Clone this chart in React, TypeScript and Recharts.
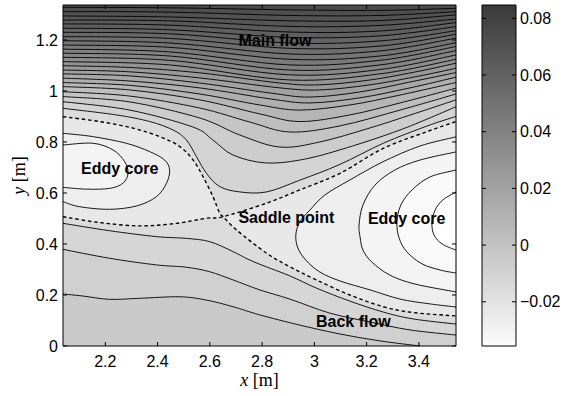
import React from 'react';
import { ComposedChart, Scatter, XAxis, YAxis } from 'recharts';

type P = [number, number];
type Piece = { pts: P[]; smooth: boolean };

const X_MIN = 2.038;
const X_MAX = 3.542;
const Y_MIN = 0;
const Y_MAX = 1.337;
const CB_MIN = -0.0356;
const CB_MAX = 0.0847;

const xTicks = [2.2, 2.4, 2.6, 2.8, 3, 3.2, 3.4];
const yTicks = [0, 0.2, 0.4, 0.6, 0.8, 1, 1.2];
const cbTicks = [-0.02, 0, 0.02, 0.04, 0.06, 0.08];

// main flow stream lines, from the separatrix upwards
const u1: P[] = [[2.038, 0.932], [2.242, 0.906], [2.37, 0.88], [2.459, 0.847], [2.51, 0.808], [2.549, 0.742], [2.587, 0.677], [2.638, 0.625], [2.715, 0.604], [2.817, 0.604], [2.944, 0.65], [3.098, 0.712], [3.264, 0.795], [3.43, 0.862], [3.542, 0.9]];
const u2: P[] = [[2.038, 0.958], [2.293, 0.925], [2.534, 0.859], [2.611, 0.808], [2.688, 0.749], [2.81, 0.718], [2.944, 0.729], [3.098, 0.769], [3.328, 0.847], [3.542, 0.938]];
const u3: P[] = [[2.038, 0.978], [2.293, 0.957], [2.561, 0.894], [2.715, 0.827], [2.868, 0.78], [3.021, 0.8], [3.213, 0.855], [3.404, 0.918], [3.542, 0.965]];
const u4: P[] = [[2.038, 0.997], [2.293, 0.98], [2.561, 0.933], [2.753, 0.878], [2.906, 0.839], [3.098, 0.863], [3.328, 0.925], [3.542, 0.988]];
const u5: P[] = [[2.038, 1.017], [2.293, 1.004], [2.561, 0.965], [2.791, 0.91], [2.944, 0.88], [3.136, 0.906], [3.328, 0.953], [3.542, 1.011]];
const u6: P[] = [[2.038, 1.033], [2.293, 1.022], [2.561, 0.988], [2.791, 0.945], [2.944, 0.925], [3.136, 0.945], [3.328, 0.984], [3.542, 1.033]];
const u7: P[] = [[2.038, 1.05], [2.293, 1.039], [2.561, 1.012], [2.83, 0.969], [2.983, 0.953], [3.174, 0.973], [3.366, 1.012], [3.542, 1.054]];
const u8: P[] = [[2.038, 1.067], [2.293, 1.059], [2.561, 1.031], [2.83, 0.992], [2.983, 0.976], [3.174, 0.996], [3.366, 1.035], [3.542, 1.072]];
const u9: P[] = [[2.038, 1.082], [2.293, 1.075], [2.561, 1.051], [2.868, 1.012], [3.021, 1.004], [3.213, 1.024], [3.404, 1.059], [3.542, 1.089]];
const u10: P[] = [[2.038, 1.099], [2.293, 1.092], [2.561, 1.071], [2.868, 1.031], [3.021, 1.024], [3.213, 1.043], [3.404, 1.078], [3.542, 1.109]];
const u11: P[] = [[2.038, 1.115], [2.446, 1.102], [2.906, 1.043], [3.251, 1.067], [3.542, 1.124]];
const u12: P[] = [[2.038, 1.132], [2.446, 1.12], [2.906, 1.063], [3.251, 1.084], [3.542, 1.141]];
const u13: P[] = [[2.038, 1.148], [2.446, 1.137], [2.906, 1.082], [3.251, 1.102], [3.542, 1.158]];
const u14: P[] = [[2.038, 1.164], [2.446, 1.153], [2.906, 1.102], [3.251, 1.12], [3.542, 1.174]];
const u15: P[] = [[2.038, 1.18], [2.446, 1.171], [2.906, 1.124], [3.251, 1.137], [3.542, 1.189]];
const u16: P[] = [[2.038, 1.197], [2.446, 1.188], [2.906, 1.145], [3.251, 1.157], [3.542, 1.207]];
const u17: P[] = [[2.038, 1.213], [2.446, 1.206], [2.906, 1.167], [3.251, 1.176], [3.542, 1.222]];
const u18: P[] = [[2.038, 1.23], [2.446, 1.224], [2.906, 1.188], [3.251, 1.196], [3.542, 1.236]];
const u19: P[] = [[2.038, 1.246], [2.446, 1.24], [2.906, 1.21], [3.251, 1.216], [3.542, 1.252]];
const u20: P[] = [[2.038, 1.263], [2.446, 1.258], [2.906, 1.231], [3.251, 1.235], [3.542, 1.268]];
const u21: P[] = [[2.038, 1.278], [2.446, 1.275], [2.906, 1.253], [3.251, 1.257], [3.542, 1.282]];
const u22: P[] = [[2.038, 1.294], [2.446, 1.29], [2.906, 1.275], [3.251, 1.276], [3.542, 1.298]];
const u23: P[] = [[2.038, 1.311], [2.446, 1.309], [2.906, 1.296], [3.251, 1.296], [3.542, 1.311]];
const u24: P[] = [[2.038, 1.328], [2.446, 1.326], [2.906, 1.318], [3.251, 1.316], [3.542, 1.324]];
const mainFlow = [u1, u2, u3, u4, u5, u6, u7, u8, u9, u10, u11, u12, u13, u14, u15, u16, u17, u18, u19, u20, u21, u22, u23, u24];

// separatrix (psi = 0): four half branches leaving the saddle point
const saddle: P = [2.651, 0.507];
const sepUpperLeft: P[] = [[2.638, 0.52], [2.612, 0.585], [2.574, 0.664], [2.536, 0.729], [2.485, 0.782], [2.408, 0.821], [2.306, 0.854], [2.178, 0.88], [2.038, 0.899]];
const sepLowerLeft: P[] = [[2.587, 0.501], [2.472, 0.481], [2.331, 0.471], [2.178, 0.484], [2.038, 0.507]];
const sepUpperRight: P[] = [[2.817, 0.56], [2.944, 0.612], [3.098, 0.677], [3.264, 0.775], [3.43, 0.84], [3.542, 0.88]];
const sepLowerRight: P[] = [[2.702, 0.455], [2.817, 0.364], [2.906, 0.311], [3.008, 0.259], [3.136, 0.2], [3.264, 0.154], [3.379, 0.131], [3.542, 0.118]];

// left eddy, outer and inner contour
const leftEddy1: P[] = [[2.038, 0.834], [2.152, 0.821], [2.28, 0.795], [2.37, 0.762], [2.427, 0.729], [2.446, 0.69], [2.434, 0.638], [2.395, 0.585], [2.319, 0.549], [2.216, 0.536], [2.102, 0.546], [2.038, 0.566]];
const leftEddy2: P[] = [[2.038, 0.788], [2.152, 0.795], [2.229, 0.769], [2.274, 0.723], [2.287, 0.677], [2.267, 0.638], [2.216, 0.618], [2.127, 0.615], [2.038, 0.622]];

// right eddy, outer to inner
const rightEddy1: P[] = [[3.542, 0.82], [3.404, 0.784], [3.262, 0.722], [3.136, 0.651], [3.04, 0.592], [2.983, 0.533], [2.944, 0.486], [2.929, 0.435], [2.937, 0.384], [2.967, 0.337], [3.021, 0.29], [3.098, 0.255], [3.213, 0.22], [3.328, 0.184], [3.443, 0.165], [3.542, 0.153]];
const rightEddy2: P[] = [[3.542, 0.761], [3.404, 0.729], [3.308, 0.69], [3.232, 0.631], [3.186, 0.553], [3.171, 0.475], [3.175, 0.427], [3.186, 0.376], [3.22, 0.329], [3.289, 0.278], [3.385, 0.243], [3.542, 0.212]];
const rightEddy3: P[] = [[3.542, 0.69], [3.443, 0.663], [3.374, 0.612], [3.331, 0.553], [3.316, 0.486], [3.324, 0.424], [3.354, 0.369], [3.412, 0.322], [3.481, 0.298], [3.542, 0.286]];
const rightEddy4: P[] = [[3.542, 0.604], [3.492, 0.573], [3.462, 0.533], [3.45, 0.482], [3.458, 0.435], [3.489, 0.4], [3.542, 0.376]];

// back flow lines under the separatrix
const back1: P[] = [[2.038, 0.481], [2.216, 0.452], [2.395, 0.429], [2.51, 0.422], [2.6, 0.409], [2.689, 0.37], [2.766, 0.331], [2.906, 0.275], [3.008, 0.227], [3.136, 0.176], [3.264, 0.133], [3.379, 0.106], [3.542, 0.086]];
const back2: P[] = [[2.038, 0.379], [2.216, 0.344], [2.395, 0.318], [2.51, 0.309], [2.6, 0.291], [2.689, 0.259], [2.791, 0.22], [2.906, 0.184], [3.059, 0.129], [3.213, 0.094], [3.366, 0.063], [3.542, 0.043]];
const back3: P[] = [[2.038, 0.204], [2.114, 0.196], [2.216, 0.183], [2.331, 0.187], [2.485, 0.193], [2.587, 0.18], [2.689, 0.154], [2.791, 0.122], [2.944, 0.082], [3.098, 0.047], [3.251, 0.02], [3.404, 0]];

const annotations = [
  { x: 2.849, y: 1.2, text: 'Main flow' },
  { x: 2.255, y: 0.698, text: 'Eddy core' },
  { x: 2.893, y: 0.506, text: 'Saddle point' },
  { x: 3.353, y: 0.502, text: 'Eddy core' },
  { x: 3.149, y: 0.095, text: 'Back flow' },
];

const gray = (v: number) => `rgb(${v},${v},${v})`;
const mainBand = (k: number) => gray(Math.round(76 + 144 * Math.pow(1 - k / 24, 1.3)));
const eddyBand = [232, 238, 244, 250, 255].map(gray);
const backBand = [214, 208, 202].map(gray);

const sansFont = '"Liberation Sans", Arial, Helvetica, sans-serif';
const serifFont = '"Liberation Serif", "Times New Roman", serif';
const tickStyle = { fill: '#000', fontSize: 16, fontFamily: sansFont };

const rev = (a: P[]) => [...a].reverse();
const corners = {
  tl: [X_MIN, Y_MAX] as P,
  tr: [X_MAX, Y_MAX] as P,
  br: [X_MAX, Y_MIN] as P,
  bl: [X_MIN, Y_MIN] as P,
};

type XY = { x: number; y: number };

function splinePath(pts: XY[], first: boolean) {
  let d = `${first ? 'M' : 'L'}${pts[0].x},${pts[0].y}`;
  for (let i = 0; i < pts.length - 1; i++) {
    const p0 = pts[i - 1] ?? pts[i];
    const p1 = pts[i];
    const p2 = pts[i + 1];
    const p3 = pts[i + 2] ?? p2;
    d += `C${p1.x + (p2.x - p0.x) / 6},${p1.y + (p2.y - p0.y) / 6} ${p2.x - (p3.x - p1.x) / 6},${p2.y - (p3.y - p1.y) / 6} ${p2.x},${p2.y}`;
  }
  return d;
}

function piecesPath(points: XY[], pieces: Piece[], close: boolean) {
  let d = '';
  let i = 0;
  pieces.forEach((pc, k) => {
    const seg = points.slice(i, i + pc.pts.length);
    i += pc.pts.length;
    if (pc.smooth) d += splinePath(seg, k === 0);
    else d += seg.map((p, j) => `${k === 0 && j === 0 ? 'M' : 'L'}${p.x},${p.y}`).join('');
  });
  return close ? d + 'Z' : d;
}

const toData = (pieces: Piece[]) => pieces.flatMap((pc) => pc.pts.map(([x, y]) => ({ x, y })));
const noShape = () => <g />;

function region(key: string, pieces: Piece[], fill: string) {
  return (
    <Scatter
      key={key}
      data={toData(pieces)}
      isAnimationActive={false}
      shape={noShape}
      line={(lp: any) => <path d={piecesPath(lp.points, pieces, true)} fill={fill} stroke="none" />}
    />
  );
}

function contour(key: string, pts: P[], dashed = false) {
  const pieces = [{ pts, smooth: true }];
  return (
    <Scatter
      key={key}
      data={toData(pieces)}
      isAnimationActive={false}
      shape={noShape}
      line={(lp: any) => (
        <path
          d={piecesPath(lp.points, pieces, false)}
          fill="none"
          stroke="#000"
          strokeWidth={dashed ? 1.4 : 0.9}
          strokeDasharray={dashed ? '3.5 2.8' : undefined}
        />
      )}
    />
  );
}

const tickShape = (p: any) => {
  const { cx, cy, payload } = p;
  const len = 4;
  const dx = payload.dir === 'right' ? len : payload.dir === 'left' ? -len : 0;
  const dy = payload.dir === 'up' ? -len : payload.dir === 'down' ? len : 0;
  return <line x1={cx} y1={cy} x2={cx + dx} y2={cy + dy} stroke="#000" strokeWidth={1} />;
};

const labelShape = (p: any) => (
  <text
    x={p.cx}
    y={p.cy}
    dy="0.35em"
    textAnchor="middle"
    fontFamily={sansFont}
    fontWeight="bold"
    fontSize={16}
    fill="#000"
  >
    {p.payload.text}
  </text>
);

const XTitle = (props: any) => {
  const vb = props.viewBox;
  return (
    <text x={vb.x + vb.width / 2} y={vb.y + 39.5} textAnchor="middle" fontFamily={serifFont} fontSize={18} fill="#000">
      <tspan fontStyle="italic">x</tspan> [m]
    </text>
  );
};

const YTitle = (props: any) => {
  const vb = props.viewBox;
  const cx = vb.x + 17;
  const cy = vb.y + vb.height / 2;
  return (
    <text x={cx} y={cy} transform={`rotate(-90 ${cx} ${cy})`} textAnchor="middle" fontFamily={serifFont} fontSize={18} fill="#000">
      <tspan fontStyle="italic">y</tspan> [m]
    </text>
  );
};

const mainTickMarks = [
  ...xTicks.flatMap((t) => [{ x: t, y: Y_MIN, dir: 'up' }, { x: t, y: Y_MAX, dir: 'down' }]),
  ...yTicks.flatMap((t) => [{ x: X_MIN, y: t, dir: 'right' }, { x: X_MAX, y: t, dir: 'left' }]),
];
const cbTickMarks = cbTicks.flatMap((t) => [{ x: 0, y: t, dir: 'right' }, { x: 1, y: t, dir: 'left' }]);

const fmtMinus = (v: number) => (v < 0 ? '\u2212' : '') + String(Math.abs(v));

export default function App() {
  const fills = [
    region('bg', [{ pts: [corners.tl, corners.tr, corners.br, corners.bl], smooth: false }], mainBand(24)),
    ...mainFlow
      .map((line, i) => ({ line, i }))
      .reverse()
      .map(({ line, i }) =>
        region(`uf${i}`, [{ pts: line, smooth: true }, { pts: [corners.br, corners.bl], smooth: false }], mainBand(i))
      ),
    region('wedgeL', [{ pts: rev([saddle, ...sepUpperLeft]), smooth: true }, { pts: [saddle, ...sepLowerLeft], smooth: true }], eddyBand[0]),
    region('wedgeR', [{ pts: [saddle, ...sepUpperRight], smooth: true }, { pts: rev([saddle, ...sepLowerRight]), smooth: true }], eddyBand[0]),
    region('le1', [{ pts: leftEddy1, smooth: true }], eddyBand[1]),
    region('le2', [{ pts: leftEddy2, smooth: true }], eddyBand[2]),
    region('re1', [{ pts: rightEddy1, smooth: true }], eddyBand[1]),
    region('re2', [{ pts: rightEddy2, smooth: true }], eddyBand[2]),
    region('re3', [{ pts: rightEddy3, smooth: true }], eddyBand[3]),
    region('re4', [{ pts: rightEddy4, smooth: true }], eddyBand[4]),
    region('b1', [{ pts: back1, smooth: true }, { pts: [corners.br, corners.bl], smooth: false }], backBand[0]),
    region('b2', [{ pts: back2, smooth: true }, { pts: [corners.br, corners.bl], smooth: false }], backBand[1]),
    region('b3', [{ pts: back3, smooth: true }, { pts: [corners.bl], smooth: false }], backBand[2]),
  ];

  const lines = [
    ...mainFlow.map((line, i) => contour(`us${i}`, line)),
    contour('les1', leftEddy1),
    contour('les2', leftEddy2),
    contour('res1', rightEddy1),
    contour('res2', rightEddy2),
    contour('res3', rightEddy3),
    contour('res4', rightEddy4),
    contour('bs1', back1),
    contour('bs2', back2),
    contour('bs3', back3),
    contour('sep1', [...rev(sepUpperLeft), saddle, ...sepLowerRight], true),
    contour('sep2', [...rev(sepLowerLeft), saddle, ...sepUpperRight], true),
  ];

  const borderPieces = [{ pts: [corners.tl, corners.tr, corners.br, corners.bl], smooth: false }];
  const cbPieces: Piece[] = [{ pts: [[0, CB_MIN], [1, CB_MIN], [1, CB_MAX], [0, CB_MAX]], smooth: false }];

  return (
    <div style={{ position: 'absolute', left: 0, top: 0, width: 562, height: 396, background: '#fff' }}>
      <div style={{ position: 'absolute', left: 0, top: 0 }}>
        <ComposedChart width={470} height={396} margin={{ top: 5, right: 14, bottom: 10, left: 8 }}>
          <XAxis
            type="number"
            dataKey="x"
            domain={[X_MIN, X_MAX]}
            ticks={xTicks}
            interval={0}
            height={40}
            tickSize={0}
            tickMargin={10}
            tickLine={false}
            axisLine={false}
            tick={tickStyle}
            tickFormatter={(v: number) => String(v)}
            label={{ content: XTitle }}
          />
          <YAxis
            type="number"
            dataKey="y"
            domain={[Y_MIN, Y_MAX]}
            ticks={yTicks}
            interval={0}
            width={55}
            tickSize={0}
            tickMargin={5}
            tickLine={false}
            axisLine={false}
            tick={tickStyle}
            tickFormatter={(v: number) => String(v)}
            label={{ content: YTitle }}
          />
          {fills}
          {lines}
          <Scatter data={mainTickMarks} isAnimationActive={false} shape={tickShape} />
          <Scatter
            data={toData(borderPieces)}
            isAnimationActive={false}
            shape={noShape}
            line={(lp: any) => <path d={piecesPath(lp.points, borderPieces, true)} fill="none" stroke="#000" strokeWidth={1} />}
          />
          <Scatter data={annotations} isAnimationActive={false} shape={labelShape} />
        </ComposedChart>
      </div>
      <div style={{ position: 'absolute', left: 470, top: 0 }}>
        <ComposedChart width={92} height={396} margin={{ top: 5, right: 0, bottom: 50, left: 12 }}>
          <defs>
            <linearGradient id="cbGrad" x1="0" y1="1" x2="0" y2="0">
              <stop offset="0%" stopColor="#fcfcfc" />
              <stop offset="100%" stopColor="#3a3a3a" />
            </linearGradient>
          </defs>
          <XAxis type="number" dataKey="x" domain={[0, 1]} hide />
          <YAxis
            type="number"
            dataKey="y"
            orientation="right"
            domain={[CB_MIN, CB_MAX]}
            ticks={cbTicks}
            interval={0}
            width={46}
            tickSize={0}
            tickMargin={4}
            tickLine={false}
            axisLine={false}
            tick={tickStyle}
            tickFormatter={fmtMinus}
          />
          <Scatter
            data={toData(cbPieces)}
            isAnimationActive={false}
            shape={noShape}
            line={(lp: any) => <path d={piecesPath(lp.points, cbPieces, true)} fill="url(#cbGrad)" stroke="#000" strokeWidth={1} />}
          />
          <Scatter data={cbTickMarks} isAnimationActive={false} shape={tickShape} />
        </ComposedChart>
      </div>
    </div>
  );
}
